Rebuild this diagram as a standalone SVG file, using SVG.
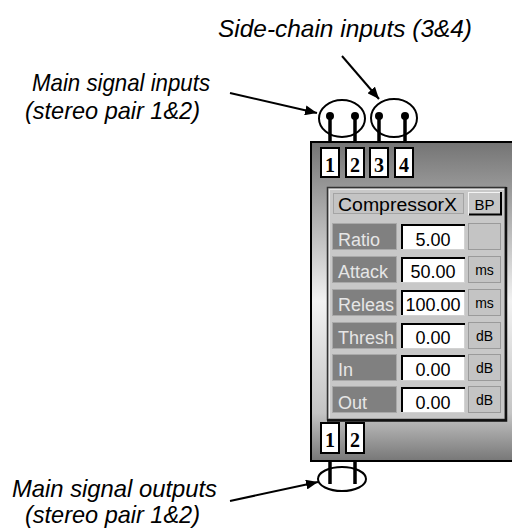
<svg xmlns="http://www.w3.org/2000/svg" width="512" height="529" viewBox="0 0 512 529">
<defs>
<linearGradient id="pg" x1="0" y1="0" x2="0" y2="1">
<stop offset="0" stop-color="#747474"/>
<stop offset="0.5" stop-color="#f2f2f2"/>
<stop offset="0.85" stop-color="#c4c4c4"/>
<stop offset="1" stop-color="#777"/>
</linearGradient>
<marker id="ah" viewBox="0 0 12 10" refX="12" refY="5" markerWidth="12" markerHeight="10" markerUnits="userSpaceOnUse" orient="auto">
<path d="M0,0 L12,5 L0,10 z" fill="#000"/>
</marker>
<style>
.note{font-family:"Liberation Sans Narrow","Liberation Sans",sans-serif;font-style:italic;font-size:24px;fill:#000}
.arr{stroke:#000;stroke-width:2;fill:none;marker-end:url(#ah)}
.port rect{fill:#fff;stroke:#000;stroke-width:2}
.port text{font-family:"Liberation Serif",serif;font-weight:bold;font-size:20px;text-anchor:middle;fill:#000}
.pin{stroke:#000;stroke-width:3.5}
.loop{fill:none;stroke:#000;stroke-width:2}
.ui{font-family:"Liberation Sans",Arial,sans-serif;font-size:18px}
.lbl{fill:#808080;stroke:#a9a9a9;stroke-width:1}
.lbltx{fill:#e6e6e6}
.val{fill:#fff;stroke:#d2d2d2;stroke-width:1}
.sunk{fill:none;stroke:#000;stroke-width:2}
.unit{fill:#c4c4c4;stroke:#9a9a9a;stroke-width:1}
.unittx{font-family:"Liberation Sans",Arial,sans-serif;font-size:14px;fill:#000;text-anchor:middle}
.valtx{fill:#000;text-anchor:middle}
</style>
</defs>
<rect width="512" height="529" fill="#fff"/>

<g id="panel">
<rect x="311" y="142" width="210" height="319" fill="url(#pg)" stroke="#000" stroke-width="2"/>
<rect x="327.5" y="187.5" width="178" height="232" fill="#c8c8c8" stroke="#333" stroke-width="1.5"/>
<polyline points="506,187 506,420.5 327,420.5" fill="none" stroke="#111" stroke-width="2.5"/>
<polyline points="329.5,418 329.5,189.5 504,189.5" fill="none" stroke="#e8e8e8" stroke-width="1"/>
</g>

<g id="title-row">
<rect x="333.5" y="193.5" width="130" height="20" fill="#c4c4c4" stroke="#a4a4a4"/>
<text class="ui" x="338" y="211" textLength="119" lengthAdjust="spacingAndGlyphs" fill="#000">CompressorX</text>
</g>
<g id="bp-button">
<rect x="468.5" y="192.5" width="32" height="22" fill="#c6c6c6" stroke="#f4f4f4"/>
<polyline points="469,214.5 501,214.5 501,192" fill="none" stroke="#000" stroke-width="2"/>
<text x="484.5" y="210" font-family="Liberation Sans, Arial, sans-serif" font-size="15" text-anchor="middle" fill="#000">BP</text>
</g>

<g id="row-ratio">
<rect class="lbl" x="332.5" y="223.5" width="64" height="26"/>
<text class="ui lbltx" x="338" y="246">Ratio</text>
<rect class="val" x="401.5" y="224.5" width="63" height="25"/>
<polyline class="sunk" points="402,249 402,225 465,225"/>
<text class="ui valtx" x="433" y="246">5.00</text>
<rect class="unit" x="468.5" y="223.5" width="32" height="26"/>
</g>
<g id="row-attack">
<rect class="lbl" x="332.5" y="256.5" width="64" height="26"/>
<text class="ui lbltx" x="338" y="278">Attack</text>
<rect class="val" x="401.5" y="257.5" width="63" height="25"/>
<polyline class="sunk" points="402,282 402,258 465,258"/>
<text class="ui valtx" x="433" y="278">50.00</text>
<rect class="unit" x="468.5" y="256.5" width="32" height="26"/>
<text class="unittx" x="484.5" y="275">ms</text>
</g>
<g id="row-release">
<rect class="lbl" x="332.5" y="289.5" width="64" height="26"/>
<text class="ui lbltx" x="338" y="311">Releas</text>
<rect class="val" x="401.5" y="290.5" width="63" height="25"/>
<polyline class="sunk" points="402,315 402,291 465,291"/>
<text class="ui valtx" x="433" y="311">100.00</text>
<rect class="unit" x="468.5" y="289.5" width="32" height="26"/>
<text class="unittx" x="484.5" y="308">ms</text>
</g>
<g id="row-thresh">
<rect class="lbl" x="332.5" y="322.5" width="64" height="26"/>
<text class="ui lbltx" x="338" y="344">Thresh</text>
<rect class="val" x="401.5" y="323.5" width="63" height="25"/>
<polyline class="sunk" points="402,348 402,324 465,324"/>
<text class="ui valtx" x="433" y="344">0.00</text>
<rect class="unit" x="468.5" y="322.5" width="32" height="26"/>
<text class="unittx" x="484.5" y="341">dB</text>
</g>
<g id="row-in">
<rect class="lbl" x="332.5" y="354.5" width="64" height="26"/>
<text class="ui lbltx" x="338" y="376">In</text>
<rect class="val" x="401.5" y="355.5" width="63" height="25"/>
<polyline class="sunk" points="402,380 402,356 465,356"/>
<text class="ui valtx" x="433" y="376">0.00</text>
<rect class="unit" x="468.5" y="354.5" width="32" height="26"/>
<text class="unittx" x="484.5" y="373">dB</text>
</g>
<g id="row-out">
<rect class="lbl" x="332.5" y="386.5" width="64" height="26"/>
<text class="ui lbltx" x="338" y="409">Out</text>
<rect class="val" x="401.5" y="387.5" width="63" height="25"/>
<polyline class="sunk" points="402,412 402,388 465,388"/>
<text class="ui valtx" x="433" y="409">0.00</text>
<rect class="unit" x="468.5" y="386.5" width="32" height="26"/>
<text class="unittx" x="484.5" y="405">dB</text>
</g>

<g id="in-port-1" class="port"><rect x="321" y="148" width="18" height="29"/><text x="330" y="172">1</text></g>
<g id="in-port-2" class="port"><rect x="346" y="148" width="18" height="29"/><text x="355" y="172">2</text></g>
<g id="in-port-3" class="port"><rect x="370" y="148" width="18" height="29"/><text x="379" y="172">3</text></g>
<g id="in-port-4" class="port"><rect x="395" y="148" width="18" height="29"/><text x="404" y="172">4</text></g>
<g id="out-port-1" class="port"><rect x="321" y="423" width="18" height="30"/><text x="330" y="447">1</text></g>
<g id="out-port-2" class="port"><rect x="346" y="423" width="18" height="30"/><text x="355" y="447">2</text></g>

<g id="connectors">
<ellipse class="loop" cx="342" cy="118.5" rx="23" ry="18.5"/>
<ellipse class="loop" cx="394" cy="118" rx="23" ry="19"/>
<line class="pin" x1="330" y1="116" x2="330" y2="142"/>
<line class="pin" x1="355" y1="116" x2="355" y2="142"/>
<line class="pin" x1="379" y1="116" x2="379" y2="142"/>
<line class="pin" x1="405" y1="116" x2="405" y2="142"/>
<circle cx="330" cy="116" r="4"/>
<circle cx="355" cy="116" r="4"/>
<circle cx="379" cy="116" r="4"/>
<circle cx="405" cy="116" r="4"/>
<ellipse class="loop" cx="342" cy="479" rx="24" ry="12"/>
<line class="pin" x1="330" y1="461" x2="330" y2="484"/>
<line class="pin" x1="355" y1="461" x2="355" y2="484"/>
<line class="arr" x1="230" y1="93" x2="317" y2="113"/>
<line class="arr" x1="342" y1="56" x2="379" y2="99"/>
<line class="arr" x1="230" y1="501" x2="318" y2="482"/>
</g>

<g id="labels">
<text class="note" x="218" y="37" textLength="254" lengthAdjust="spacingAndGlyphs">Side-chain inputs (3&amp;4)</text>
<text class="note" x="32" y="91" textLength="178" lengthAdjust="spacingAndGlyphs">Main signal inputs</text>
<text class="note" x="25" y="119" textLength="175" lengthAdjust="spacingAndGlyphs">(stereo pair 1&amp;2)</text>
<text class="note" x="12" y="497" textLength="205" lengthAdjust="spacingAndGlyphs">Main signal outputs</text>
<text class="note" x="25" y="523" textLength="175" lengthAdjust="spacingAndGlyphs">(stereo pair 1&amp;2)</text>
</g>
</svg>
